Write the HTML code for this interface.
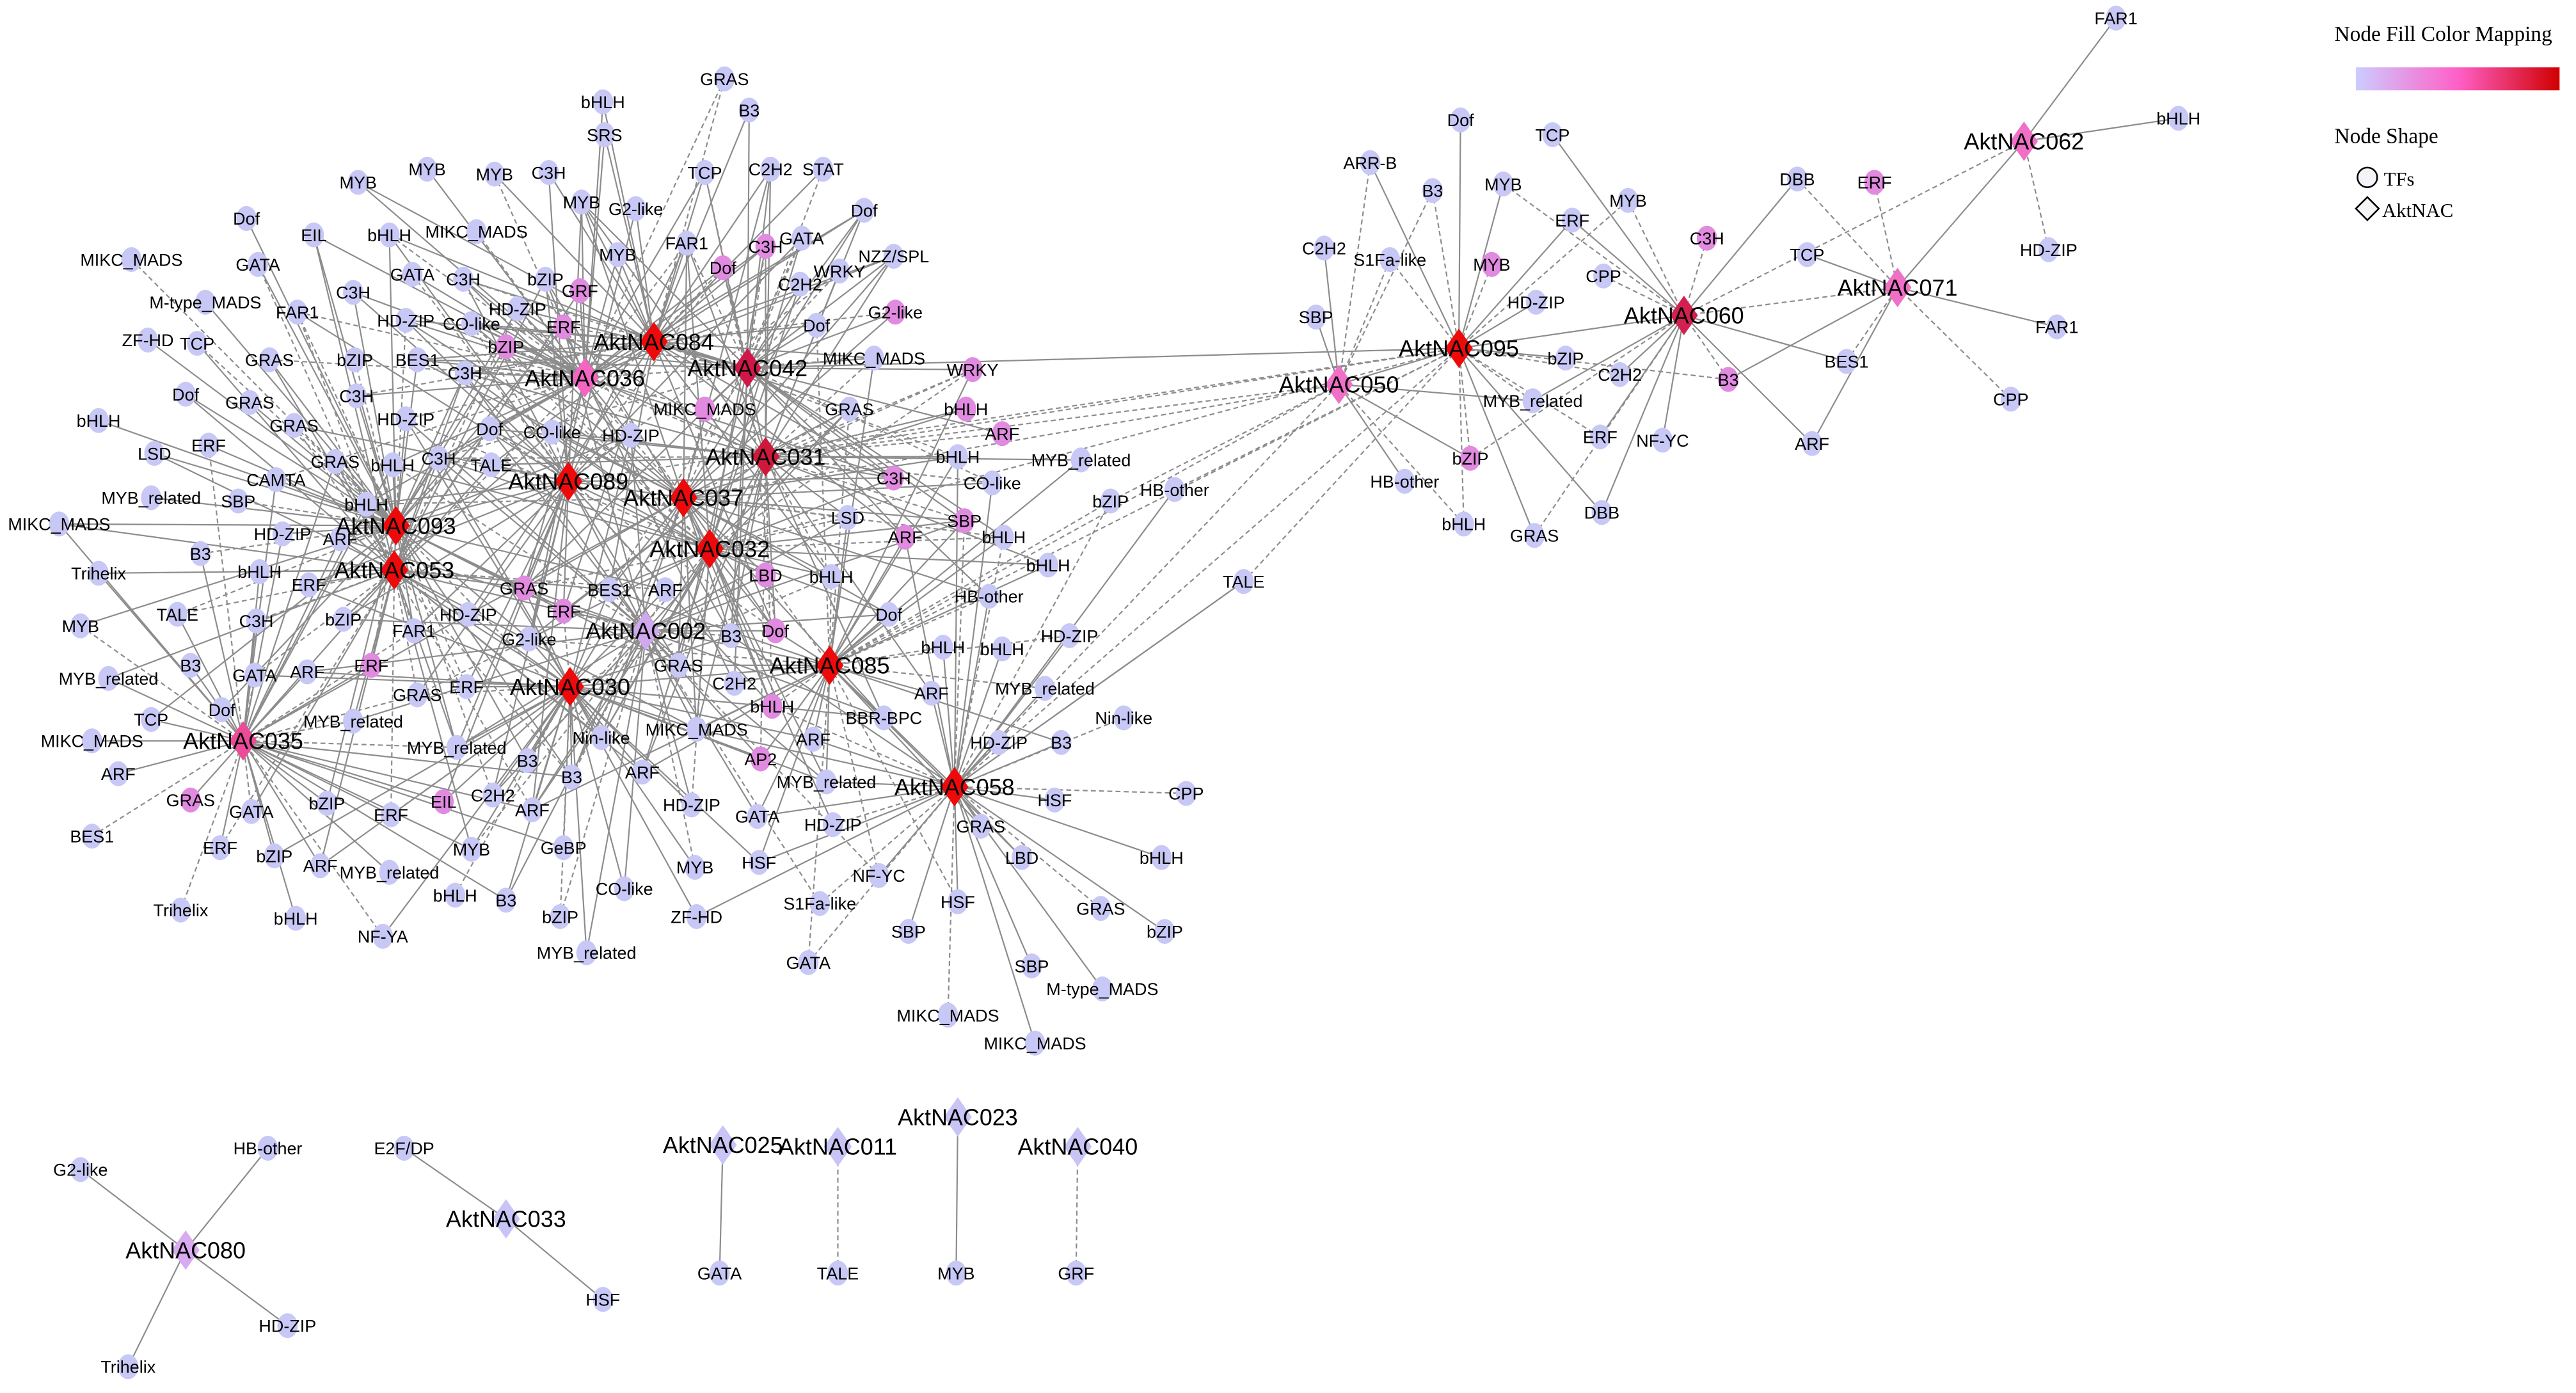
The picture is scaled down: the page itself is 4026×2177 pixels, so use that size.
<!DOCTYPE html>
<html><head><meta charset="utf-8"><style>
html,body{margin:0;padding:0;background:#fff;}
svg{display:block;}
text{font-family:"Liberation Sans",Arial,sans-serif;fill:#000;}
.leg{font-family:"Liberation Serif","Times New Roman",serif;}
</style></head><body>
<svg id="s" width="4026" height="2177" viewBox="0 0 1568 848" preserveAspectRatio="none" xmlns="http://www.w3.org/2000/svg">
<defs><linearGradient id="g" x1="0" x2="1"><stop offset="0" stop-color="#ccccff"/><stop offset="0.5" stop-color="#ff60c8"/><stop offset="1" stop-color="#d00000"/></linearGradient></defs>
<g id="E" stroke="#8c8c8c" stroke-width="0.85" fill="none"></g>
<g id="N"></g>
<text class="leg" x="1421" y="25" font-size="13">Node Fill Color Mapping</text>
<rect x="1434" y="41" width="124" height="14" fill="url(#g)"/>
<text class="leg" x="1421" y="87" font-size="13">Node Shape</text>
<ellipse cx="1441" cy="108" rx="6" ry="6" fill="#f4f4f8" stroke="#000" stroke-width="1"/>
<text class="leg" x="1451" y="113" font-size="12">TFs</text>
<path d="M1441 120 L1448 127 L1441 134 L1434 127 Z" fill="#f4f4f8" stroke="#000" stroke-width="1"/>
<text class="leg" x="1450" y="132" font-size="12">AktNAC</text>
</svg>
<script>
var H={
'084':[398,208,'#ee0a0a'],'036':[356,230,'#f565c4'],'042':[455,224,'#d01848'],'031':[466,278,'#d0183a'],
'089':[346,293,'#ee0a0a'],'037':[416,303,'#ee0a0a'],'093':[241,320,'#ee0a0a'],'032':[432,334,'#ee0a0a'],
'053':[240,347,'#ee0a0a'],'002':[393,384,'#d0a8ee'],'030':[347,418,'#ee0a0a'],'085':[505,405,'#ee0a0a'],
'035':[148,451,'#ee4a9a'],'058':[581,479,'#ee0a0a'],
'050':[815,234,'#f070c8'],'095':[888,212,'#ee0a0a'],'060':[1025,192,'#d42050'],'071':[1155,175,'#f070c8'],'062':[1232,86,'#f070c8'],
'080':[113,761,'#d8aaf0'],'033':[308,742,'#c8c4f6'],'025':[440,697,'#c8c4f6'],'011':[510,698,'#c8c4f6'],'023':[583,680,'#c8c4f6'],'040':[656,698,'#c8c4f6']};
var T=`GRAS 441 48|bHLH 367 62|B3 456 67|SRS 368 82|MYB 218 111|MYB 260 103|MYB 301 106|C3H 334 105|TCP 429 105|C2H2 469 103|STAT 501 103|MYB 354 123|G2-like 387 127|Dof 526 128|EIL 191 143|bHLH 237 143|MIKC_MADS 290 141|FAR1 418 148|C3H 466 150 p|GATA 488 145|Dof 150 133|GATA 157 161|MIKC_MADS 80 158|C3H 215 178|GATA 251 167|C3H 282 170|MYB 376 155|WRKY 511 165|NZZ/SPL 544 156|Dof 440 163 p|C2H2 487 173|M-type_MADS 125 184|FAR1 181 190|HD-ZIP 247 195|CO-like 287 197|HD-ZIP 315 188|bZIP 332 170|GRF 353 177 p|G2-like 545 190 p|ZF-HD 90 207|TCP 120 209|bZIP 216 219|BES1 254 219|bZIP 308 211 p|ERF 343 199 p|Dof 497 198|GRAS 164 219|C3H 283 227|C3H 217 241|MIKC_MADS 532 218|WRKY 592 225 p|Dof 113 240|GRAS 152 245|HD-ZIP 247 255|Dof 298 261|CO-like 336 263|HD-ZIP 384 265|MIKC_MADS 429 249 p|GRAS 517 249|bHLH 588 249 p|bHLH 60 256|GRAS 179 259|C3H 267 279|TALE 299 283|ARF 610 264 p|MYB_related 658 280|LSD 94 276|ERF 127 271|GRAS 204 281|CAMTA 168 292|bHLH 239 283|bHLH 583 278|C3H 544 291 p|CO-like 604 294|MYB_related 92 303|SBP 145 305|bHLH 223 307|MIKC_MADS 36 319|HD-ZIP 172 325|ARF 207 328|SBP 587 317 p|LSD 516 315|bHLH 611 327|B3 122 337|ARF 551 327 p|Trihelix 60 349|bHLH 158 348|ERF 188 356|HD-ZIP 285 374|GRAS 319 358 p|BES1 371 359|ARF 405 359|LBD 466 350 p|bHLH 506 351|bHLH 638 344|MYB 49 381|TALE 108 374|C3H 156 378|bZIP 209 377|FAR1 252 384|G2-like 322 389|ERF 343 372 p|B3 445 387|Dof 472 384 p|Dof 541 374|HB-other 602 363|HD-ZIP 651 387|bHLH 574 394|bHLH 610 395|B3 116 405|MYB_related 66 413|GATA 155 411|ARF 187 409|ERF 226 405 p|GRAS 254 423|ERF 284 418|GRAS 413 405|C2H2 447 416|bHLH 470 430 p|MYB_related 636 419|ARF 567 422|Nin-like 684 437|TCP 92 438|Dof 135 432|MYB_related 215 439|BBR-BPC 538 437|MIKC_MADS 56 451|ARF 72 471|MIKC_MADS 424 444|Nin-like 366 449|MYB_related 278 455|B3 321 463|ARF 495 450|HD-ZIP 608 452|B3 646 452|GRAS 116 487 p|AP2 463 462 p|B3 348 473|ARF 391 470|MYB_related 503 476|HSF 642 487|CPP 722 483|bZIP 199 489|EIL 270 488 p|C2H2 300 484|ARF 324 493|GATA 153 494|ERF 238 496|HD-ZIP 421 490|GATA 461 497|HD-ZIP 507 502|GRAS 597 503|BES1 56 509|ERF 134 516|bZIP 167 521|ARF 195 527|MYB 287 517|GeBP 343 516|HSF 462 525|LBD 622 522|bHLH 707 522|MYB_related 237 531|NF-YC 535 533|bHLH 277 545|CO-like 380 541|MYB 423 528|Trihelix 110 554|bHLH 180 559|B3 308 548|bZIP 341 558|ZF-HD 424 558|S1Fa-like 499 550|HSF 583 549|GRAS 670 553|NF-YA 233 570|SBP 553 567|bZIP 709 567|MYB_related 357 580|GATA 492 586|SBP 628 588|M-type_MADS 671 602|MIKC_MADS 577 618|MIKC_MADS 630 635|HB-other 715 298|bZIP 676 305|TALE 757 354`;
var R=`Dof 889 73|TCP 945 82|ARR-B 834 99|B3 872 116|MYB 915 112|ERF 957 134|MYB 991 122|C3H 1039 145 p|C2H2 806 151|S1Fa-like 846 158|MYB 908 161 p|CPP 976 168|HD-ZIP 935 184|SBP 801 193|bZIP 953 218|C2H2 986 228|B3 1052 231 p|MYB_related 933 244|ERF 974 266|NF-YC 1012 268|bZIP 895 279 p|HB-other 855 293|bHLH 891 319|GRAS 934 326|DBB 975 312|BES1 1124 220|ARF 1103 270|DBB 1094 109|ERF 1141 111 p|TCP 1100 155|HD-ZIP 1247 152|FAR1 1252 199|CPP 1224 243|FAR1 1288 11|bHLH 1326 72`;
var seed=7;function rnd(){seed=(seed*16807)%2147483647;return seed/2147483647;}
var E=document.getElementById('E'),N=document.getElementById('N'),ns='http://www.w3.org/2000/svg';
function el(p,t,a){var e=document.createElementNS(ns,t);for(var k in a)e.setAttribute(k,a[k]);p.appendChild(e);return e;}
function line(a,b,d){var o={x1:a[0],y1:a[1],x2:b[0],y2:b[1]};if(d)o['stroke-dasharray']='3,2';el(E,'line',o);}
function parse(s){return s.split('|').map(function(x){var q=x.split(' ');return [q[0],+q[1],+q[2],q[3]=='p'];});}
var C=['084','036','042','031','089','037','093','032','053','002','030','085','035','058'];
var RR=['050','095','060','071','062'];
function connect(list,hubs,rad,p,dp){list.forEach(function(t){var ds=hubs.map(function(h){var a=H[h];return [Math.hypot(a[0]-t[1],a[1]-t[2]),h];}).sort(function(a,b){return a[0]-b[0];});
ds.forEach(function(d,i){if(i==0||(d[0]<rad&&rnd()<p))line([t[1],t[2]],H[d[1]],rnd()<dp);});});}
var TL=parse(T),RL=parse(R);
connect(TL,C,210,0.55,0.25);connect(RL,RR,170,0.45,0.45);
// hub-hub & long edges
[['037','050',1],['031','095',1],['085','050',1],['085','095',1],['058','050',1],['089','095',1],['042','095',0],['031','050',1],['032','095',1],['058','095',1],['050','095',0],['095','060',0],['060','071',1],['071','062',0],['060','062',1],['084','042',0],['089','093',0],['093','053',0],['037','032',0],['089','037',0],['035','053',0],['030','085',0],['085','058',0]].forEach(function(e){line(H[e[0]],H[e[1]],e[2]);});
var Tm=TL.filter(function(t){return t[0]=='TALE'&&t[1]==757;})[0];line([757,354],H['095'],1);line([757,354],H['058'],0);
line([676,305],H['050'],1);line([715,298],H['095'],1);
// small components
var S=[['G2-like',49,712,'080',0],['HB-other',163,699,'080',0],['HD-ZIP',175,807,'080',0],['Trihelix',78,832,'080',0],['E2F/DP',246,699,'033',0],['HSF',367,791,'033',0],['GATA',438,775,'025',0],['TALE',510,775,'011',1],['MYB',582,775,'023',0],['GRF',655,775,'040',1]];
S.forEach(function(s){line([s[1],s[2]],H[s[3]],s[4]);});
function tf(t){el(N,'ellipse',{cx:t[1],cy:t[2],rx:6.2,ry:7.6,fill:t[3]?'#e08ae0':'#c8c8f6'});var x=el(N,'text',{x:t[1],y:t[2]+3.8,'font-size':10.5,'text-anchor':'middle'});x.textContent=t[0];}
TL.forEach(tf);RL.forEach(tf);S.forEach(function(s){tf([s[0],s[1],s[2],false]);});
for(var h in H){var a=H[h];el(N,'path',{d:'M'+a[0]+' '+(a[1]-12)+' L'+(a[0]+8.5)+' '+a[1]+' L'+a[0]+' '+(a[1]+12)+' L'+(a[0]-8.5)+' '+a[1]+' Z',fill:a[2]});}
for(var h in H){var a=H[h];var x=el(N,'text',{x:a[0],y:a[1]+5,'font-size':14,'text-anchor':'middle'});x.textContent='AktNAC'+h;}
</script>
</body></html>
